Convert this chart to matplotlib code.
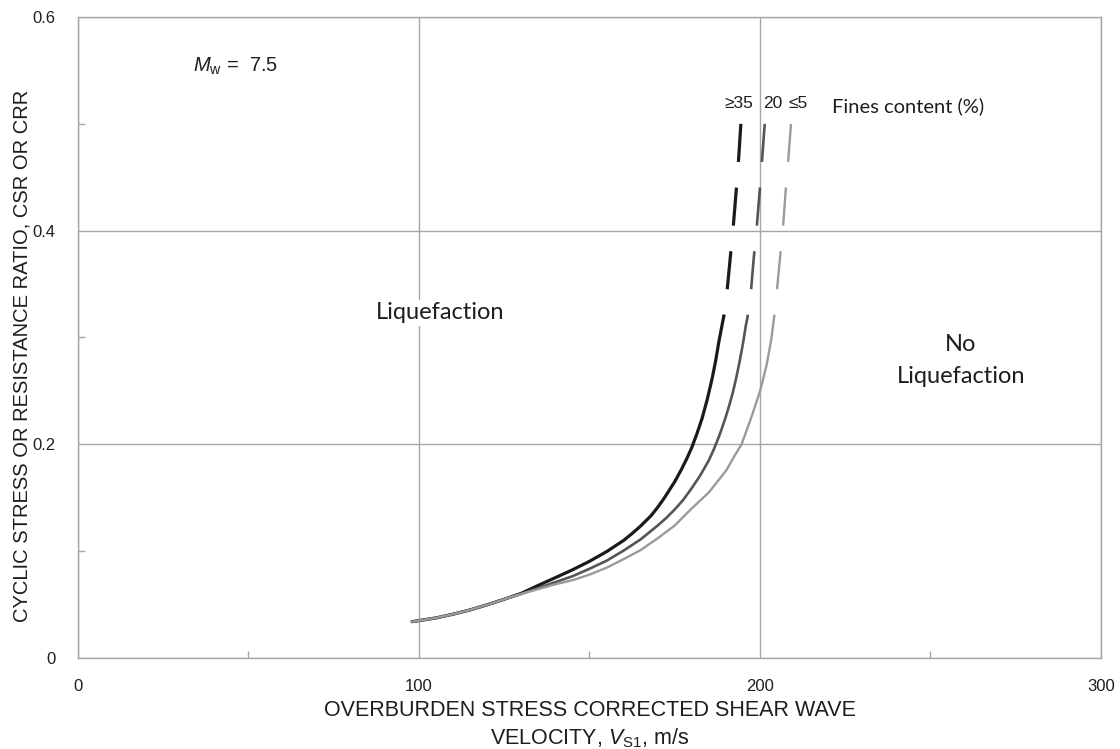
import matplotlib
matplotlib.use("Agg")
import matplotlib.pyplot as plt
from matplotlib.ticker import FixedLocator

# CRR curves (Vs1 in m/s, CRR), one per fines content
vs_fc35 = [98, 105, 110, 115, 120, 125, 130, 135, 140, 145, 150, 155, 160, 162.5, 165,
           168, 170, 172, 175, 177, 178.5, 180, 181.5, 183, 184.5, 186, 187, 188, 189.4]
crr_fc35 = [0.034, 0.0375, 0.041, 0.045, 0.0498, 0.055, 0.0605, 0.068, 0.0752, 0.0825,
            0.0905, 0.0995, 0.110, 0.1165, 0.1235, 0.133, 0.141, 0.150, 0.165, 0.1767,
            0.1863, 0.197, 0.2098, 0.224, 0.2415, 0.262, 0.278, 0.297, 0.320]
vs_fc35_ext = [189.4, 190.4, 191.3, 192.2, 193.1, 193.8, 194.4]
crr_fc35_ext = [0.320, 0.345, 0.375, 0.405, 0.440, 0.470, 0.500]

vs_fc20 = [98, 105, 110, 115, 120, 125, 130, 135, 140, 145, 150, 155, 160, 165, 170,
           172.5, 175, 177.5, 180, 182.5, 185, 186.5, 188, 189, 190, 191, 192, 193, 194,
           195, 195.8, 196.4]
crr_fc20 = [0.034, 0.0375, 0.041, 0.045, 0.0498, 0.055, 0.060, 0.0655, 0.071, 0.0765,
            0.0835, 0.091, 0.1005, 0.111, 0.124, 0.131, 0.139, 0.148, 0.159, 0.171,
            0.185, 0.1955, 0.2075, 0.2165, 0.226, 0.2365, 0.248, 0.2616, 0.277, 0.294,
            0.310, 0.320]
vs_fc20_ext = [196.4, 197.4, 198.2, 199.1, 200.0, 200.7, 201.4]
crr_fc20_ext = [0.320, 0.345, 0.375, 0.405, 0.440, 0.470, 0.500]

vs_fc5 = [98, 105, 110, 115, 120, 125, 130, 135, 140, 145, 150, 155, 160, 165, 170, 175,
          180, 185, 187.5, 190.2, 192.5, 194.6, 197, 198.5, 200, 201, 202, 203.3, 204.2]
crr_fc5 = [0.034, 0.0375, 0.041, 0.045, 0.0498, 0.055, 0.060, 0.0645, 0.069, 0.0728,
           0.078, 0.0845, 0.0925, 0.101, 0.112, 0.124, 0.140, 0.155, 0.165, 0.176, 0.189,
           0.200, 0.221, 0.235, 0.2495, 0.262, 0.275, 0.298, 0.320]
vs_fc5_ext = [204.2, 205.0, 205.9, 206.8, 207.6, 208.4, 209.1]
crr_fc5_ext = [0.320, 0.345, 0.375, 0.405, 0.440, 0.470, 0.500]

fc_labels = ["\u226535", "20", "\u22645"]
x_ticks = [0, 100, 200, 300]
x_minor = [50, 150, 250]
y_ticks = [0, 0.2, 0.4, 0.6]
y_minor = [0.1, 0.3, 0.5]

plt.rcParams["font.family"] = ["Liberation Sans", "DejaVu Sans"]
plt.rcParams["mathtext.fontset"] = "custom"
plt.rcParams["mathtext.rm"] = "Liberation Sans"
plt.rcParams["mathtext.it"] = "Liberation Sans:italic"
plt.rcParams["lines.scale_dashes"] = False

grid_col = "#a6a6a6"
txt_col = "#1e1e1e"

fig = plt.figure(figsize=(11.2, 7.49), dpi=100)
ax = fig.add_axes([0.0696, 0.1215, 0.9134, 0.8558])

curves = [
    (vs_fc35, crr_fc35, vs_fc35_ext, crr_fc35_ext, "#1a1a1a", 2.3),
    (vs_fc20, crr_fc20, vs_fc20_ext, crr_fc20_ext, "#555555", 1.9),
    (vs_fc5, crr_fc5, vs_fc5_ext, crr_fc5_ext, "#9a9a9a", 1.7),
]
for i, (vs, crr, vs_e, crr_e, col, lw) in enumerate(curves):
    ax.plot(vs, crr, color=col, lw=lw, solid_capstyle="round",
            solid_joinstyle="round", zorder=3 + i)
    # dashed extension drawn from the top down so it starts with a dash at 0.5
    ax.plot(vs_e[::-1], crr_e[::-1], color=col, lw=lw, dashes=(27.5, 18.5),
            zorder=3 + i)

ax.set_xlim(0, 300)
ax.set_ylim(0, 0.6)
ax.set_xticks(x_ticks)
ax.set_xticklabels([str(v) for v in x_ticks])
ax.set_yticks(y_ticks)
ax.set_yticklabels(["0", "0.2", "0.4", "0.6"])
ax.xaxis.set_minor_locator(FixedLocator(x_minor))
ax.yaxis.set_minor_locator(FixedLocator(y_minor))
ax.tick_params(which="major", length=0, labelsize=12, labelcolor=txt_col)
ax.tick_params(axis="x", which="major", pad=15)
ax.tick_params(axis="y", which="major", pad=16)
ax.tick_params(which="minor", direction="in", length=5, color=grid_col, width=1)
ax.grid(True, which="major", color=grid_col, lw=1)
ax.set_axisbelow(True)
for s in ax.spines.values():
    s.set_color(grid_col)
    s.set_linewidth(1)

ax.text(33.7, 0.5535, r"$M_{\mathrm{w}}$ =  7.5", fontsize=14.5, color=txt_col,
        ha="left", va="center")
for x_lab, lab in zip([193.7, 203.7, 211.1], fc_labels):
    ax.text(x_lab, 0.519, lab, fontsize=12.5, color=txt_col, ha="center", va="center",
            family=["Liberation Sans", "DejaVu Sans"])
ax.text(221.0, 0.5165, "Fines content (%)", fontsize=14.5, family="Lato",
        color=txt_col, ha="left", va="center")
ax.text(106.1, 0.323, "Liquefaction", fontsize=17, family="Lato", color=txt_col,
        ha="center", va="center",
        bbox=dict(facecolor="white", edgecolor="none", pad=2))
ax.text(258.9, 0.293, "No", fontsize=17, family="Lato", color=txt_col,
        ha="center", va="center")
ax.text(258.9, 0.2635, "Liquefaction", fontsize=17, family="Lato", color=txt_col,
        ha="center", va="center")

fig.text(590 / 1120, 1 - 710 / 749, "OVERBURDEN STRESS CORRECTED SHEAR WAVE",
         fontsize=15.5, color=txt_col, ha="center", va="center")
fig.text(590 / 1120, 1 - 738 / 749, r"VELOCITY, $V_{\mathrm{S1}}$, m/s",
         fontsize=15.5, color=txt_col, ha="center", va="center")
fig.text(22 / 1120, 1 - 356 / 749, "CYCLIC STRESS OR RESISTANCE RATIO, CSR OR CRR",
         fontsize=14.5, color=txt_col, ha="center", va="center", rotation=90)

fig.savefig("out.png", dpi=100)
